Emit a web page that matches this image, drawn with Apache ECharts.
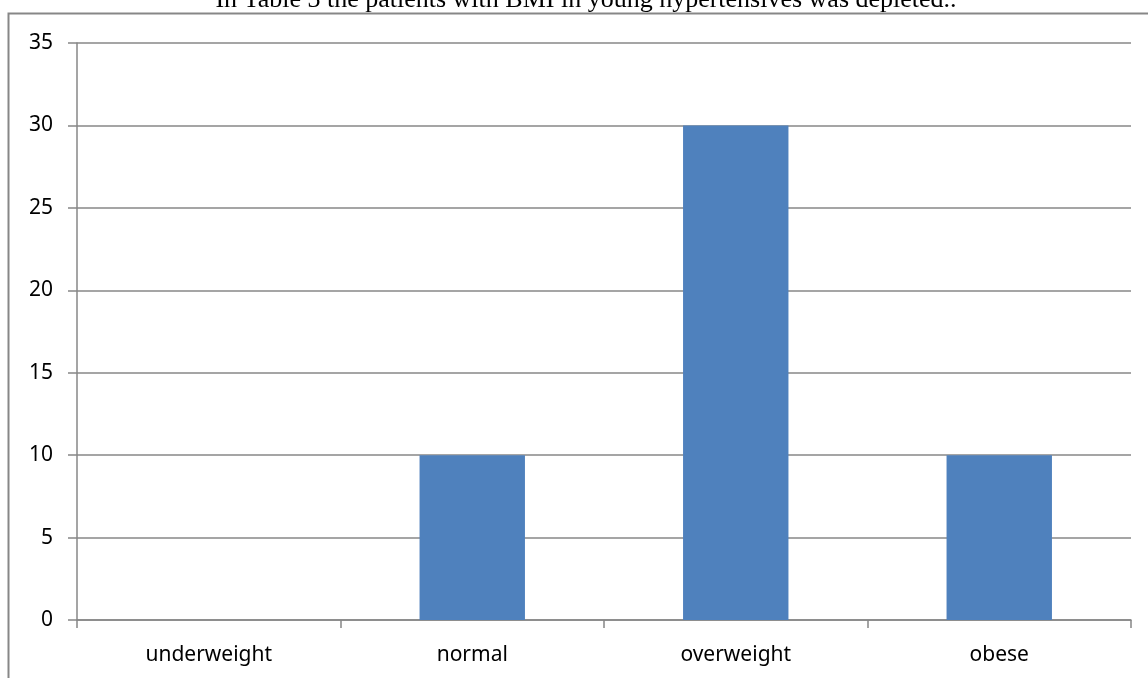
<!DOCTYPE html>
<html>
<head>
<meta charset="utf-8">
<script src="https://cdn.jsdelivr.net/npm/echarts@6/dist/echarts.min.js"></script>
<style>
  html, body { margin: 0; padding: 0; background: #fff; }
  #chart { width: 1148px; height: 678px; }
</style>
</head>
<body>
<div id="chart"></div>
<script>
// BMI groups of young hypertensive patients
const categories = ['underweight', 'normal', 'overweight', 'obese'];
const patients = [0, 10, 30, 10];
const titleText = 'In Table 3 the patients with BMI in young hypertensives was depleted..';

const gray = '#878787';
const chart = echarts.init(document.getElementById('chart'), null, { renderer: 'canvas' });

chart.setOption({
  animation: false,
  backgroundColor: '#ffffff',
  graphic: [
    {
      type: 'rect',
      shape: { x: 8.5, y: 13.5, width: 1400, height: 1000 },
      style: { fill: 'none', stroke: gray, lineWidth: 2 },
      silent: true
    },
    {
      type: 'text',
      x: 586,
      y: 13,
      style: {
        text: titleText,
        fill: '#000',
        font: '26px "Liberation Serif"',
        textAlign: 'center',
        textVerticalAlign: 'bottom'
      },
      silent: true
    }
  ],
  grid: { left: 77, right: 17, top: 43, bottom: 58 },
  xAxis: {
    type: 'category',
    data: categories,
    boundaryGap: true,
    axisLine: { lineStyle: { color: gray, width: 1.5 } },
    axisTick: { show: true, length: 8, lineStyle: { color: gray, width: 1.5 } },
    axisLabel: { color: '#000', fontFamily: 'Noto Sans', fontSize: 21, margin: 25 },
    splitLine: { show: false }
  },
  yAxis: {
    type: 'value',
    min: 0,
    max: 35,
    interval: 5,
    axisLine: { show: true, lineStyle: { color: gray, width: 1.5 } },
    axisTick: { show: true, length: 9, lineStyle: { color: gray, width: 1.5 } },
    axisLabel: { color: '#000', fontFamily: 'Noto Sans', fontSize: 21, margin: 24 },
    splitLine: { show: true, lineStyle: { color: gray, width: 1.5 } }
  },
  series: [
    {
      type: 'bar',
      data: patients,
      barCategoryGap: '60%',
      itemStyle: { color: '#4F81BD' }
    }
  ]
});
</script>
</body>
</html>
